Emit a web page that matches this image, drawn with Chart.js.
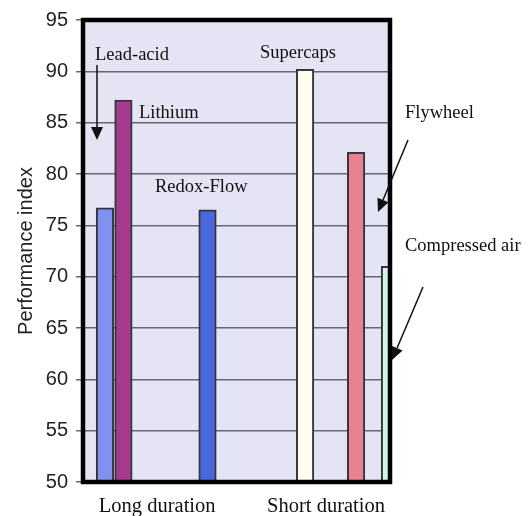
<!DOCTYPE html>
<html>
<head>
<meta charset="utf-8">
<script src="https://cdn.jsdelivr.net/npm/chart.js@4.4.1/dist/chart.umd.min.js"></script>
<style>
  html, body { margin: 0; padding: 0; background: #ffffff; }
  #wrap { width: 529px; height: 516px; position: relative; }
</style>
</head>
<body>
<div id="wrap"><canvas id="c" width="529" height="516"></canvas></div>
<script>
// ---- data ----
const categories = ["Long duration", "Short duration"];
const technologies = ["Lead-acid", "Lithium", "Redox-Flow", "Supercaps", "Flywheel", "Compressed air"];
const performanceIndex = [76.7, 87.2, 76.5, 90.2, 82.1, 71.0];
const yTicks = [50, 55, 60, 65, 70, 75, 80, 85, 90, 95];

// ---- layout (slot positions on a hidden 0..18 axis) ----
const barSlot = [1.29, 2.37, 7.30, 13.02, 16.01, 18.0];
const categorySlot = [4.35, 14.25];
const barColors = ["#8191f0", "#a53a8f", "#4a68de", "#fffff0", "#ea8190", "#d2f5e6"];

const labelPlacement = [
  { text: "Lead-acid", x: 95, y: 55 },
  { text: "Lithium", x: 139, y: 113 },
  { text: "Redox-Flow", x: 155, y: 187 },
  { text: "Supercaps", x: 260, y: 53 },
  { text: "Flywheel", x: 405, y: 113 },
  { text: "Compressed air", x: 405, y: 246 }
];
const arrows = [
  { x1: 97, y1: 65, x2: 97, y2: 140 },
  { x1: 408, y1: 140, x2: 378, y2: 212 },
  { x1: 423, y1: 287, x2: 392, y2: 360 }
];

const decorPlugin = {
  id: 'decor',
  beforeDraw(chart) {
    const { ctx, chartArea: a } = chart;
    ctx.save();
    ctx.fillStyle = '#ffffff';
    ctx.fillRect(0, 0, chart.width, chart.height);
    ctx.fillStyle = '#e4e4f4';
    ctx.fillRect(a.left, a.top, a.right - a.left, a.bottom - a.top);
    ctx.restore();
  },
  afterDatasetsDraw(chart) {
    const { ctx, chartArea: a } = chart;
    ctx.save();
    ctx.strokeStyle = '#000000';
    ctx.lineWidth = 4.5;
    ctx.strokeRect(a.left, a.top, a.right - a.left, a.bottom - a.top);
    ctx.restore();
  },
  afterDraw(chart) {
    const { ctx } = chart;
    ctx.save();
    ctx.fillStyle = '#111111';
    ctx.font = '18.5px "Liberation Serif", "Times New Roman", serif';
    ctx.textAlign = 'left';
    ctx.textBaseline = 'middle';
    labelPlacement.forEach(l => ctx.fillText(l.text, l.x, l.y));
    ctx.strokeStyle = '#111111';
    ctx.lineWidth = 1.5;
    arrows.forEach(ar => {
      const ang = Math.atan2(ar.y2 - ar.y1, ar.x2 - ar.x1);
      const hl = 13, hw = 6;
      const bx = ar.x2 - hl * Math.cos(ang), by = ar.y2 - hl * Math.sin(ang);
      ctx.beginPath();
      ctx.moveTo(ar.x1, ar.y1);
      ctx.lineTo(bx, by);
      ctx.stroke();
      ctx.beginPath();
      ctx.moveTo(ar.x2, ar.y2);
      ctx.lineTo(bx + hw * Math.sin(ang), by - hw * Math.cos(ang));
      ctx.lineTo(bx - hw * Math.sin(ang), by + hw * Math.cos(ang));
      ctx.closePath();
      ctx.fill();
    });
    ctx.restore();
  }
};

new Chart(document.getElementById('c'), {
  type: 'bar',
  data: {
    datasets: [{
      label: 'Performance index',
      data: performanceIndex.map((v, i) => ({ x: barSlot[i], y: v })),
      backgroundColor: barColors,
      borderColor: '#363640',
      borderWidth: 2,
      barThickness: 17.5
    }]
  },
  options: {
    responsive: false,
    animation: false,
    devicePixelRatio: 1,
    layout: { padding: { top: 17, right: 139, left: 0, bottom: 0 } },
    plugins: { legend: { display: false }, tooltip: { enabled: false } },
    scales: {
      x: {
        type: 'linear',
        min: 0,
        max: 18,
        offset: false,
        grid: { display: false, drawTicks: false },
        border: { display: false },
        afterBuildTicks(scale) {
          scale.ticks = categorySlot.map(v => ({ value: v }));
        },
        afterFit(scale) { scale.height = 34; },
        ticks: {
          autoSkip: false,
          maxRotation: 0,
          padding: 12,
          color: '#111111',
          font: { family: '"Liberation Serif", "Times New Roman", serif', size: 20.5 },
          callback(value, index) { return categories[index]; }
        }
      },
      y: {
        min: 50,
        max: 95,
        afterBuildTicks(scale) {
          scale.ticks = yTicks.map(v => ({ value: v }));
        },
        afterFit(scale) { scale.width = 83; },
        grid: { color: '#666674', lineWidth: 1.5, tickLength: 7 },
        border: { display: false },
        ticks: {
          padding: 8,
          color: '#222222',
          font: { family: '"Liberation Sans", Arial, sans-serif', size: 20 }
        },
        title: {
          display: true,
          text: 'Performance index',
          color: '#222222',
          padding: { top: 14, bottom: 0 },
          font: { family: '"Liberation Sans", Arial, sans-serif', size: 20 }
        }
      }
    }
  },
  plugins: [decorPlugin]
});
</script>
</body>
</html>
